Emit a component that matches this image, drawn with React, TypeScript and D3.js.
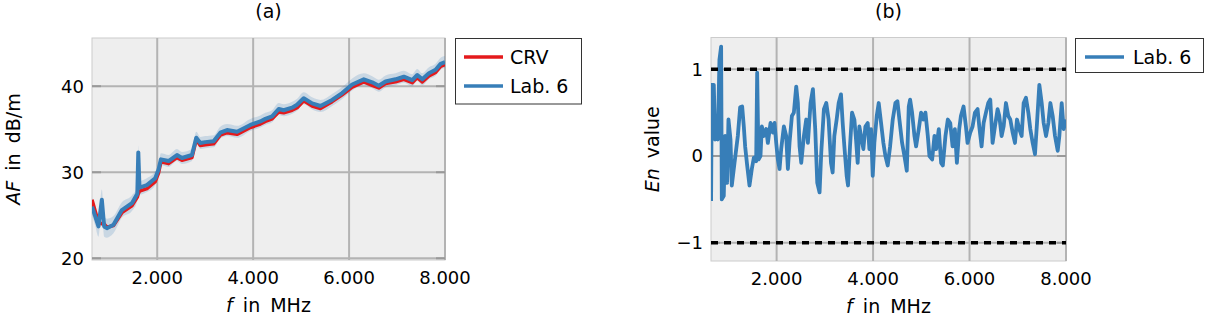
import React from 'react'
import * as d3 from 'd3'

// (a) antenna factor
const afFreq = [640, 706, 775, 845, 893, 950, 1088, 1263, 1472, 1585, 1605, 1630, 1785, 1958, 2027, 2077, 2236, 2411, 2515, 2724, 2814, 2898, 3002, 3175, 3315, 3455, 3664, 3942, 4150, 4255, 4395, 4532, 4637, 4812, 4916, 5054, 5230, 5403, 5647, 5856, 6065, 6307, 6482, 6620, 6760, 6969, 7142, 7317, 7422, 7526, 7665, 7804, 7909, 8000]
const crvAF = [26.8, 25.5, 24.2, 24.0, 24.0, 23.6, 23.8, 25.3, 26.1, 27.1, 27.5, 27.8, 28.1, 28.9, 29.9, 31.2, 31.0, 31.7, 31.4, 31.7, 33.8, 33.1, 33.2, 33.3, 34.3, 34.6, 34.4, 35.2, 35.6, 35.9, 36.2, 37.0, 36.9, 37.2, 37.5, 38.3, 37.7, 37.4, 38.2, 39.0, 39.9, 40.5, 40.1, 39.8, 40.3, 40.5, 40.8, 40.4, 41.0, 40.5, 41.2, 41.6, 42.3, 42.5]
const lab6AF = [26.0, 24.9, 23.7, 26.8, 23.7, 23.5, 23.9, 25.6, 26.4, 27.5, 32.3, 28.2, 28.5, 29.3, 30.3, 31.5, 31.3, 32.0, 31.65, 32.0, 34.0, 33.4, 33.5, 33.6, 34.6, 34.9, 34.7, 35.5, 35.9, 36.2, 36.5, 37.35, 37.2, 37.5, 37.85, 38.6, 38.0, 37.7, 38.4, 39.2, 40.2, 40.8, 40.45, 40.05, 40.55, 40.8, 41.1, 40.7, 41.3, 40.8, 41.5, 41.9, 42.6, 42.8]
const lab6U = [1.0, 1.1, 1.2, 1.2, 1.2, 1.1, 1.0, 0.9, 0.9, 0.8, 0.8, 0.8, 0.8, 0.8, 0.7, 0.7, 0.7, 0.7, 0.7, 0.7, 0.7, 0.7, 0.7, 0.7, 0.7, 0.7, 0.7, 0.7, 0.7, 0.7, 0.7, 0.7, 0.7, 0.7, 0.7, 0.7, 0.7, 0.7, 0.7, 0.7, 0.7, 0.7, 0.7, 0.7, 0.7, 0.7, 0.7, 0.7, 0.7, 0.7, 0.7, 0.7, 0.7, 0.7]

// (b) En value
const enFreq = [
  642, 656, 698, 725, 753, 781, 815, 850, 864, 905, 933, 974, 1002, 1044, 1071, 1127, 1196, 1244, 1286, 1320,
  1348, 1390, 1438, 1486, 1528, 1576, 1597, 1625, 1666, 1694, 1736, 1784, 1819, 1874, 1922, 1957, 1992, 2026, 2061, 2095,
  2151, 2199, 2234, 2268, 2317, 2358, 2407, 2441, 2476, 2511, 2566, 2614, 2649, 2704, 2753, 2801, 2843, 2891, 2926, 2981,
  3030, 3078, 3128, 3162, 3197, 3245, 3287, 3335, 3370, 3405, 3453, 3481, 3522, 3564, 3612, 3647, 3681, 3716, 3751, 3799,
  3841, 3889, 3924, 3958, 3993, 4027, 4076, 4117, 4166, 4214, 4256, 4304, 4353, 4408, 4463, 4505, 4546, 4602, 4650, 4699,
  4740, 4768, 4809, 4858, 4892, 4948, 4996, 5045, 5086, 5135, 5169, 5225, 5273, 5308, 5363, 5411, 5446, 5501, 5550,
  5600, 5648, 5696, 5738, 5786, 5821, 5876, 5925, 5959, 6015, 6063, 6112, 6167, 6202, 6250, 6292, 6340, 6388, 6430, 6478,
  6527, 6582, 6617, 6665, 6707, 6755, 6804, 6845, 6894, 6942, 6984, 7032, 7080, 7122, 7170, 7219, 7260, 7309, 7357, 7399,
  7447, 7496, 7537, 7586, 7634, 7676, 7724, 7772, 7828, 7862, 7911, 7952, 8000,
]
const enValue = [
  -0.52, 0.82, 0.82, 0.19, 0.46, 0.19, 1.11, 1.26, -0.5, -0.46, 0.23, -0.31, 0.42, 0.19, -0.34, -0.08, 0.23, 0.56, 0.57, 0.34,
  0.11, -0.11, -0.34, -0.15, -0.02, -0.06, 0.96, -0.04, 0.0, 0.34, 0.23, 0.31, 0.15, 0.38, 0.27, 0.38, 0.15, -0.04, -0.15, 0.08,
  0.34, 0.23, -0.15, 0.15, 0.46, 0.5, 0.8, 0.61, 0.11, -0.08, 0.23, 0.42, 0.15, 0.61, 0.77, 0.31, -0.31, -0.42, 0.04, 0.54,
  0.61, 0.42, -0.08, -0.19, 0.23, 0.42, 0.61, 0.71, 0.38, 0.11, -0.23, -0.34, 0.11, 0.5, 0.42, 0.19, -0.08, 0.34, 0.23, 0.08,
  0.34, 0.38, 0.08, 0.31, -0.23, 0.15, 0.46, 0.61, 0.38, 0.15, 0.0, -0.11, 0.11, 0.42, 0.61, 0.63, 0.42, 0.15, 0.0, -0.17,
  0.57, 0.65, 0.5, 0.23, 0.11, 0.31, 0.5, 0.42, 0.5, 0.23, 0.0, -0.04, 0.23, 0.08, 0.31, -0.08, -0.11, 0.23, 0.42,
  0.38, 0.11, 0.31, -0.08, 0.31, 0.46, 0.57, 0.34, 0.15, 0.27, 0.34, 0.5, 0.54, 0.34, 0.11, 0.38, 0.5, 0.61, 0.65, 0.15,
  0.34, 0.54, 0.46, 0.23, 0.34, 0.61, 0.46, 0.42, 0.27, 0.15, 0.42, 0.31, 0.23, 0.61, 0.67, 0.5, 0.31, 0.15, 0.02, 0.38,
  0.82, 0.61, 0.38, 0.23, 0.38, 0.61, 0.46, 0.23, 0.06, 0.23, 0.61, 0.31, 0.42,
]
const enLimits = [-1, 1]

const freqTicks = [2000, 4000, 6000, 8000]
const afTicks = [20, 30, 40]
const enTicks = [-1, 0, 1]
const freqTickLabels = ['2.000', '4.000', '6.000', '8.000']
const enTickLabels = ['\u22121', '0', '1']

const RED = '#e41a1c'
const BLUE = '#377eb8'
const BG = '#eeeeee'
const GRID = '#b3b3b3'
const FONT = 'DejaVu Sans'

type Panel = { x0: number; x1: number; y0: number; y1: number }

function Frame({ p, x, y, xt, yt, ytLabels }: any) {
  return (
    <g>
      <rect x={p.x0} y={p.y0} width={p.x1 - p.x0} height={p.y1 - p.y0} fill={BG} stroke="#cccccc" strokeWidth={1} />
      {xt.map((t: number) => (
        <line key={'gx' + t} x1={x(t)} x2={x(t)} y1={p.y0} y2={p.y1} stroke={GRID} strokeWidth={2} />
      ))}
      {yt.map((t: number) => (
        <line key={'gy' + t} x1={p.x0} x2={p.x1} y1={y(t)} y2={y(t)} stroke={GRID} strokeWidth={2} />
      ))}
      {yt.map((t: number) => (
        <g key={'ty' + t}>
          <line x1={p.x0} x2={p.x0 + 9} y1={y(t)} y2={y(t)} stroke="#999" strokeWidth={2} />
          <line x1={p.x1 - 9} x2={p.x1} y1={y(t)} y2={y(t)} stroke="#999" strokeWidth={2} />
        </g>
      ))}
      {xt.map((t: number, i: number) => (
        <text key={'lx' + t} x={x(t)} y={p.y1 + 24} textAnchor="middle" fontSize={18} fontFamily={FONT} fill="#000">
          {freqTickLabels[i]}
        </text>
      ))}
      {yt.map((t: number, i: number) => (
        <text key={'ly' + t} x={p.x0 - 8} y={y(t) + 6.5} textAnchor="end" fontSize={18} fontFamily={FONT} fill="#000">
          {ytLabels[i]}
        </text>
      ))}
      <text x={(p.x0 + p.x1) / 2} y={p.y1 + 52} textAnchor="middle" fontSize={19} fontFamily={FONT} wordSpacing={4} fill="#000">
        <tspan fontStyle="italic">f</tspan> in MHz
      </text>
    </g>
  )
}

export default function App() {
  const pa: Panel = { x0: 92, x1: 445, y0: 38, y1: 260 }
  const pb: Panel = { x0: 711, x1: 1066, y0: 37.5, y1: 261 }

  const xa = d3.scaleLinear().domain([640, 8000]).range([pa.x0, pa.x1])
  const ya = d3.scaleLinear().domain([19.8, 45.6]).range([pa.y1, pa.y0])
  const xb = d3.scaleLinear().domain([640, 8000]).range([pb.x0, pb.x1])
  const yb = d3.scaleLinear().domain([-1.21, 1.365]).range([pb.y1, pb.y0])

  const idx = d3.range(afFreq.length)
  const band = d3.area<number>()
    .x((i) => xa(afFreq[i]))
    .y0((i) => ya(lab6AF[i] - lab6U[i]))
    .y1((i) => ya(lab6AF[i] + lab6U[i]))
    .curve(d3.curveMonotoneX)
  const crvLine = d3.line<number>().x((i) => xa(afFreq[i])).y((i) => ya(crvAF[i]))
  const labLine = d3.line<number>().x((i) => xa(afFreq[i])).y((i) => ya(lab6AF[i]))
  const enLine = d3.line<number>().x((i) => xb(enFreq[i])).y((i) => yb(enValue[i]))

  return (
    <>
      <style>{'body{margin:0}'}</style>
      <svg width={1205} height={321} style={{ display: 'block', background: '#fff' }}>
        <defs>
          <clipPath id="ca"><rect x={pa.x0} y={pa.y0} width={pa.x1 - pa.x0} height={pa.y1 - pa.y0} /></clipPath>
          <clipPath id="cb"><rect x={pb.x0} y={pb.y0} width={pb.x1 - pb.x0} height={pb.y1 - pb.y0} /></clipPath>
        </defs>

        {/* (a) */}
        <text x={(pa.x0 + pa.x1) / 2} y={18} textAnchor="middle" fontSize={19} fontFamily={FONT}>(a)</text>
        <Frame p={pa} x={xa} y={ya} xt={freqTicks} yt={afTicks} ytLabels={afTicks.map(String)} />
        <g clipPath="url(#ca)">
          <path d={band(idx) || ''} fill={BLUE} fillOpacity={0.2} />
          <path d={crvLine(idx) || ''} fill="none" stroke={RED} strokeWidth={3.5} strokeLinejoin="round" />
          <path d={labLine(idx) || ''} fill="none" stroke={BLUE} strokeWidth={4} strokeLinejoin="round" />
        </g>
        <text transform={`translate(20,${(pa.y0 + pa.y1) / 2}) rotate(-90)`} textAnchor="middle" fontSize={19} fontFamily={FONT} wordSpacing={4}>
          <tspan fontStyle="italic">AF</tspan> in dB/m
        </text>
        <g>
          <rect x={455.5} y={38.5} width={126} height={65.5} fill="#fff" stroke="#333" strokeWidth={1} />
          <line x1={464} x2={503} y1={57} y2={57} stroke={RED} strokeWidth={3.5} />
          <text x={510} y={64} fontSize={19} fontFamily={FONT}>CRV</text>
          <line x1={464} x2={503} y1={86} y2={86} stroke={BLUE} strokeWidth={3.5} />
          <text x={510} y={93} fontSize={19} fontFamily={FONT}>Lab. 6</text>
        </g>

        {/* (b) */}
        <text x={(pb.x0 + pb.x1) / 2} y={18} textAnchor="middle" fontSize={19} fontFamily={FONT}>(b)</text>
        <Frame p={pb} x={xb} y={yb} xt={freqTicks} yt={enTicks} ytLabels={enTickLabels} />
        <g clipPath="url(#cb)">
          <path d={enLine(d3.range(enFreq.length)) || ''} fill="none" stroke={BLUE} strokeWidth={3.8} strokeLinejoin="round" />
          {enLimits.map((v) => (
            <line key={v} x1={pb.x0} x2={pb.x1} y1={yb(v)} y2={yb(v)} stroke="#000" strokeWidth={3.5} strokeDasharray="7,6" />
          ))}
        </g>
        <text transform={`translate(659,${(pb.y0 + pb.y1) / 2}) rotate(-90)`} textAnchor="middle" fontSize={19} fontFamily={FONT} wordSpacing={4}>
          <tspan fontStyle="italic">En</tspan> value
        </text>
        <g>
          <rect x={1075.5} y={38.5} width={128} height={34} fill="#fff" stroke="#333" strokeWidth={1} />
          <line x1={1085} x2={1124} y1={57} y2={57} stroke={BLUE} strokeWidth={3.5} />
          <text x={1133} y={64} fontSize={19} fontFamily={FONT}>Lab. 6</text>
        </g>
      </svg>
    </>
  )
}
